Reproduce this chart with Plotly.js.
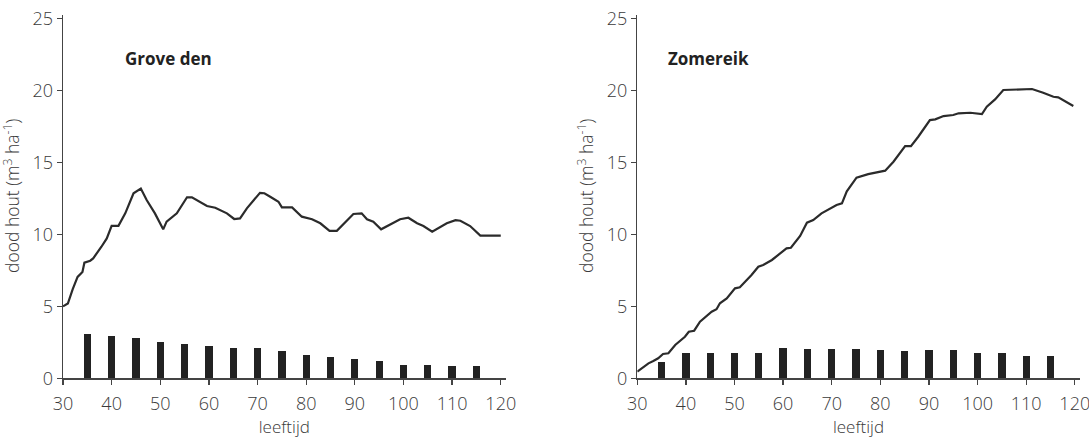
<!DOCTYPE html>
<html>
<head>
<meta charset="utf-8">
<script src="https://cdn.plot.ly/plotly-3.0.1.min.js"></script>
<style>html,body{margin:0;padding:0;background:#fff}#chart{width:1089px;height:440px}</style>
</head>
<body>
<div id="chart"></div>
<script>
// Grove den (Scots pine) – dead wood volume line
const pineAges = [30, 31, 32, 33, 34, 34.4, 35.6, 36.2, 37.9, 39, 40, 41.4, 42.8, 44.5, 46, 47.2, 48.9, 50.6, 51.3, 53.4, 55.5, 56.5, 59.6, 61.3, 63.7, 65.2, 66.4, 67.8, 70.5, 71.4, 72.6, 74.3, 75, 77.1, 79.1, 81.2, 82.9, 84.8, 86.3, 89.7, 91.4, 92.5, 93.8, 95.4, 99.3, 101, 102.8, 104.1, 105.9, 108.9, 110.7, 111.7, 113.7, 115.8, 120];
const pineValues = [5.0, 5.2, 6.2, 7.05, 7.4, 8.04, 8.18, 8.34, 9.15, 9.73, 10.6, 10.6, 11.47, 12.87, 13.2, 12.4, 11.47, 10.36, 10.9, 11.47, 12.59, 12.59, 11.98, 11.86, 11.47, 11.08, 11.12, 11.82, 12.9, 12.87, 12.63, 12.28, 11.89, 11.89, 11.24, 11.06, 10.78, 10.26, 10.26, 11.43, 11.47, 11.06, 10.89, 10.36, 11.06, 11.17, 10.78, 10.59, 10.2, 10.78, 11.0, 10.96, 10.59, 9.92, 9.92];

// Zomereik (pedunculate oak) – dead wood volume line
const oakAges = [30, 32.3, 33.3, 34.3, 35.3, 36.4, 37.8, 39.8, 40.6, 41.7, 42.9, 45.3, 46.3, 47, 48.4, 50.1, 51.1, 53.5, 54.9, 55.9, 57.7, 58.7, 60.7, 61.6, 63.5, 64.9, 66.2, 67.9, 70, 71, 72.1, 73.1, 75.1, 77.5, 81, 82.7, 85.1, 86.3, 87.8, 90.2, 91.3, 93, 95, 96.1, 98.5, 100.9, 101.9, 103.6, 105.3, 111.2, 113.5, 115.6, 116.6, 118.4, 119.7];
const oakValues = [0.46, 1.04, 1.2, 1.39, 1.69, 1.74, 2.32, 2.89, 3.24, 3.31, 3.94, 4.63, 4.8, 5.22, 5.56, 6.26, 6.33, 7.18, 7.76, 7.88, 8.23, 8.5, 9.04, 9.08, 9.9, 10.82, 11.0, 11.47, 11.89, 12.05, 12.17, 13.0, 13.95, 14.2, 14.44, 15.06, 16.15, 16.15, 16.8, 17.96, 18.01, 18.24, 18.31, 18.43, 18.47, 18.38, 18.89, 19.4, 20.05, 20.12, 19.86, 19.58, 19.54, 19.19, 18.94];

// Bars
const barAges = [35, 40, 45, 50, 55, 60, 65, 70, 75, 80, 85, 90, 95, 100, 105, 110, 115];
const pineBars = [3.05, 2.94, 2.82, 2.5, 2.36, 2.25, 2.13, 2.09, 1.93, 1.64, 1.5, 1.32, 1.2, 0.95, 0.95, 0.83, 0.83];
const oakBars = [1.15, 1.78, 1.78, 1.78, 1.78, 2.13, 2.05, 2.05, 2.06, 1.97, 1.9, 1.97, 1.95, 1.78, 1.78, 1.53, 1.53];

const xTicks = [30, 40, 50, 60, 70, 80, 90, 100, 110, 120];
const yTicks = [0, 5, 10, 15, 20, 25];
const panelTitles = ['Grove den', 'Zomereik'];
const yTitle = 'dood hout (m<sup>3</sup> ha<sup>-1</sup>)';
const xTitle = 'leeftijd';

const FONT = 'Open Sans, Noto Sans, sans-serif';
const LINE = '#2b2b2b';
const BAR = '#222222';
const AX = '#444444';
const TXT = '#3a3a3a';

const traces = [
  {type:'bar', x: barAges, y: pineBars, width: 1.5, marker:{color:BAR}, xaxis:'x', yaxis:'y', hoverinfo:'x+y'},
  {type:'scatter', mode:'lines', x: pineAges, y: pineValues, line:{color:LINE, width:2.2}, xaxis:'x', yaxis:'y'},
  {type:'bar', x: barAges, y: oakBars, width: 1.5, marker:{color:BAR}, xaxis:'x2', yaxis:'y2', hoverinfo:'x+y'},
  {type:'scatter', mode:'lines', x: oakAges, y: oakValues, line:{color:LINE, width:2.2}, xaxis:'x2', yaxis:'y2'}
];

function xAxis(domain, anchor) {
  return {
    domain: domain, anchor: anchor, range: [30, 121],
    tickvals: xTicks, ticktext: xTicks.map(String),
    ticks: 'outside', ticklen: 5, tickwidth: 1.3, tickcolor: AX,
    ticklabelstandoff: 4, ticklabeloverflow: 'allow',
    showline: true, linecolor: AX, linewidth: 1.4,
    showgrid: false, zeroline: false,
    tickfont: {family: FONT, size: 18, weight: 300, color: TXT},
    title: {text: xTitle, font: {family: FONT, size: 17, weight: 300, color: TXT}, standoff: 6}
  };
}
function yAxis(anchor) {
  return {
    domain: [0.1402, 0.967], anchor: anchor, range: [0, 25.3],
    tickvals: yTicks, ticktext: yTicks.map(String),
    ticks: 'outside', ticklen: 5, tickwidth: 1.3, tickcolor: AX,
    ticklabeloverflow: 'allow',
    showline: true, linecolor: AX, linewidth: 1.4,
    showgrid: false, zeroline: false,
    tickfont: {family: FONT, size: 18, weight: 300, color: TXT}
  };
}

const layout = {
  width: 1089, height: 440,
  margin: {l: 0, r: 0, t: 0, b: 0},
  paper_bgcolor: '#ffffff', plot_bgcolor: '#ffffff',
  showlegend: false,
  bargap: 0,
  xaxis: xAxis([0.05785, 0.4643], 'y'),
  yaxis: yAxis('x'),
  xaxis2: xAxis([0.5852, 0.9914], 'y2'),
  yaxis2: yAxis('x2'),
  annotations: [
    {text: '<b>' + panelTitles[0] + '</b>', xref:'paper', yref:'paper', x: 123/1089, y: 1 - 59/440, xanchor:'left', yanchor:'middle', showarrow:false, font:{family: FONT, size: 17, color:'#222'}},
    {text: '<b>' + panelTitles[1] + '</b>', xref:'paper', yref:'paper', x: 666/1089, y: 1 - 59/440, xanchor:'left', yanchor:'middle', showarrow:false, font:{family: FONT, size: 17, color:'#222'}},
    {text: yTitle, xref:'paper', yref:'paper', x: 11/1089, y: 1 - 196/440, xanchor:'center', yanchor:'middle', textangle:-90, showarrow:false, font:{family: FONT, size: 17.5, weight: 300, color: TXT}},
    {text: yTitle, xref:'paper', yref:'paper', x: 585/1089, y: 1 - 196/440, xanchor:'center', yanchor:'middle', textangle:-90, showarrow:false, font:{family: FONT, size: 17.5, weight: 300, color: TXT}}
  ]
};

Plotly.newPlot('chart', traces, layout, {staticPlot: true, displayModeBar: false});
</script>
</body>
</html>
